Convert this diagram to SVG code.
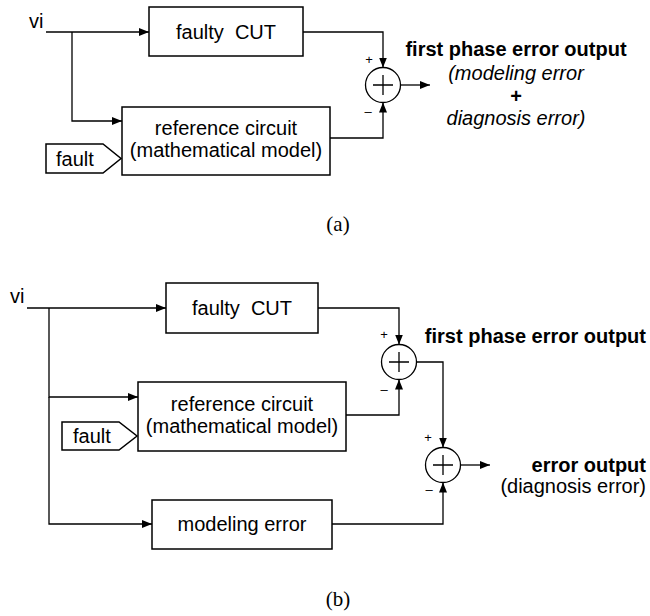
<svg xmlns="http://www.w3.org/2000/svg" width="650" height="616" viewBox="0 0 650 616">
<style>
.box{fill:#fff;stroke:#000;stroke-width:1.5}
.ln{fill:none;stroke:#000;stroke-width:1.3}
.t{font-family:"Liberation Sans",Arial,sans-serif;font-size:20px;fill:#000}
.c{text-anchor:middle}
.e{text-anchor:end}
.b{font-weight:bold}
.i{font-style:italic}
.s{font-family:"Liberation Sans",Arial,sans-serif;font-size:13px;fill:#000;text-anchor:middle}
.cap{font-family:"Liberation Serif","Times New Roman",serif;font-size:21px;fill:#000;text-anchor:middle}
.sum{fill:#fff;stroke:#000;stroke-width:1.3}
</style>
<defs>
<marker id="arr" markerUnits="userSpaceOnUse" markerWidth="10" markerHeight="8" refX="10" refY="4" orient="auto">
<path d="M0,0 L10,4 L0,8 z" fill="#000"/>
</marker>
</defs>

<!-- (a) -->
<g id="connectors-a">
<path class="ln" d="M46,32 H149" marker-end="url(#arr)"/>
<path class="ln" d="M72,32 V121 H122" marker-end="url(#arr)"/>
<path class="ln" d="M303,32 H383 V67.5" marker-end="url(#arr)"/>
<path class="ln" d="M330,138 H383 V102.5" marker-end="url(#arr)"/>
<path class="ln" d="M400.5,85 H430" marker-end="url(#arr)"/>
</g>
<g id="a-vi"><text class="t" x="29" y="28">vi</text></g>
<g id="a-cut">
<rect class="box" x="149" y="7" width="154" height="49"/>
<text class="t c" x="226" y="39" xml:space="preserve">faulty  CUT</text>
</g>
<g id="a-ref">
<rect class="box" x="122" y="107" width="208" height="68"/>
<text class="t c" x="226" y="135">reference circuit</text>
<text class="t c" x="226" y="157">(mathematical model)</text>
</g>
<g id="a-fault">
<path class="box" d="M46,144 H103 L121,158.5 L103,173 H46 Z"/>
<text class="t" x="56" y="166">fault</text>
</g>
<g id="a-sum">
<circle class="sum" cx="383" cy="85" r="17.5"/>
<path class="ln" d="M373,85 H393 M383,75 V95"/>
<text class="s" x="369" y="64">+</text>
<text class="s" x="368" y="116">–</text>
</g>
<g id="a-out">
<text class="t c b" x="516" y="56">first phase error output</text>
<text class="t c i" x="516" y="80">(modeling error</text>
<text class="t c b" x="516" y="103">+</text>
<text class="t c i" x="516" y="125">diagnosis error)</text>
</g>
<text class="cap" x="338" y="231">(a)</text>

<!-- (b) -->
<g id="connectors-b">
<path class="ln" d="M27,308 H166" marker-end="url(#arr)"/>
<path class="ln" d="M49,308 V397 H138" marker-end="url(#arr)"/>
<path class="ln" d="M49,397 V524 H152" marker-end="url(#arr)"/>
<path class="ln" d="M318,308 H399 V344.5" marker-end="url(#arr)"/>
<path class="ln" d="M346,415 H399 V379.5" marker-end="url(#arr)"/>
<path class="ln" d="M416.5,362 H443 V447.5" marker-end="url(#arr)"/>
<path class="ln" d="M332,524 H443 V482.5" marker-end="url(#arr)"/>
<path class="ln" d="M460.5,465 H490" marker-end="url(#arr)"/>
</g>
<g id="b-vi"><text class="t" x="10" y="303">vi</text></g>
<g id="b-cut">
<rect class="box" x="166" y="283" width="152" height="50"/>
<text class="t c" x="242" y="315" xml:space="preserve">faulty  CUT</text>
</g>
<g id="b-ref">
<rect class="box" x="138" y="382" width="208" height="69"/>
<text class="t c" x="242" y="411">reference circuit</text>
<text class="t c" x="242" y="433">(mathematical model)</text>
</g>
<g id="b-fault">
<path class="box" d="M62,422 H119 L137,436 L119,450 H62 Z"/>
<text class="t" x="73" y="443">fault</text>
</g>
<g id="b-model">
<rect class="box" x="152" y="500" width="180" height="49"/>
<text class="t c" x="242" y="531">modeling error</text>
</g>
<g id="b-sum1">
<circle class="sum" cx="399" cy="362" r="17.5"/>
<path class="ln" d="M389,362 H409 M399,352 V372"/>
<text class="s" x="384" y="339">+</text>
<text class="s" x="384" y="394">–</text>
</g>
<g id="b-sum2">
<circle class="sum" cx="443" cy="465" r="17.5"/>
<path class="ln" d="M433,465 H453 M443,455 V475"/>
<text class="s" x="428" y="442">+</text>
<text class="s" x="429" y="494">–</text>
</g>
<g id="b-labels">
<text class="t e b" x="646" y="343">first phase error output</text>
<text class="t e b" x="646" y="472">error output</text>
<text class="t e" x="646" y="493">(diagnosis error)</text>
</g>
<text class="cap" x="338" y="606">(b)</text>
</svg>
